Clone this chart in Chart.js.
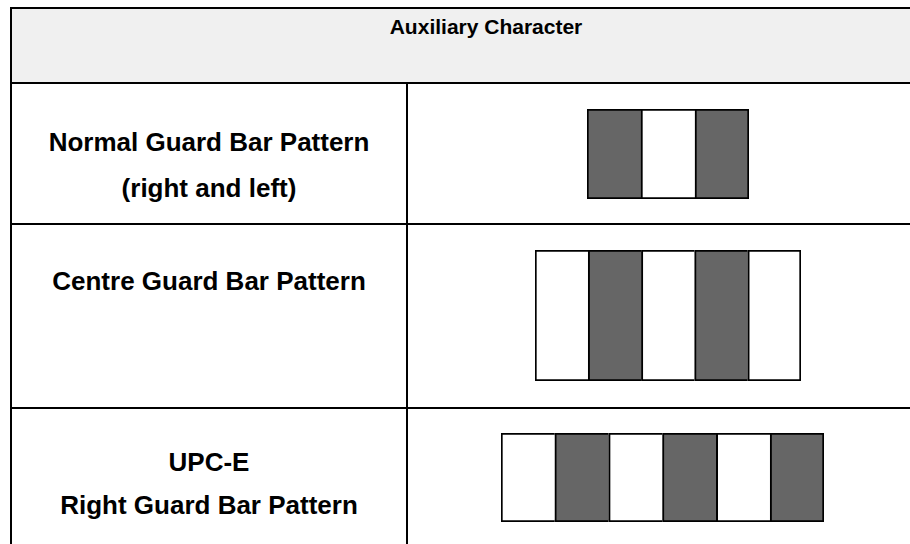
<!DOCTYPE html>
<html>
<head>
<meta charset="utf-8">
<script src="https://cdn.jsdelivr.net/npm/chart.js@4.4.0/dist/chart.umd.min.js"></script>
<style>
  body { margin: 0; width: 910px; height: 544px; overflow: hidden; background: #fff; font-family: "Liberation Sans", Arial, sans-serif; }
  .abs { position: absolute; }
  .line { position: absolute; background: #000; }
  .txt { position: absolute; font-weight: bold; color: #000; white-space: nowrap; text-align: center; line-height: 30px; height: 30px; }
  canvas { position: absolute; }
</style>
</head>
<body>
<div class="abs" style="left:12px;top:9px;width:910px;height:73px;background:#f0f0f0"></div>
<div class="line" style="left:10px;top:7px;width:910px;height:2px"></div>
<div class="line" style="left:10px;top:82px;width:910px;height:2px"></div>
<div class="line" style="left:10px;top:223px;width:910px;height:2px"></div>
<div class="line" style="left:10px;top:407px;width:910px;height:2px"></div>
<div class="line" style="left:10px;top:7px;width:2px;height:540px"></div>
<div class="line" style="left:406px;top:82px;width:2px;height:470px"></div>

<div class="txt" id="head" style="left:286px;top:12px;width:400px;font-size:21px"></div>
<div id="labels"></div>

<canvas id="c0" width="162" height="90" style="left:587px;top:109px"></canvas>
<canvas id="c1" width="266" height="131" style="left:535px;top:250px"></canvas>
<canvas id="c2" width="323" height="89" style="left:501px;top:433px"></canvas>

<script>
// 1 = dark bar module, 0 = space module
const headerText = 'Auxiliary Character';
const rowLabels = [
  ['Normal Guard Bar Pattern', '(right and left)'],
  ['Centre Guard Bar Pattern'],
  ['UPC-E', 'Right Guard Bar Pattern']
];
const normalGuard = [1, 0, 1];
const centreGuard = [0, 1, 0, 1, 0];
const upceRightGuard = [0, 1, 0, 1, 0, 1];

const patterns = [normalGuard, centreGuard, upceRightGuard];
const labelTops = [[127, 173], [266], [447, 490]];

document.getElementById('head').textContent = headerText;
const labelBox = document.getElementById('labels');
rowLabels.forEach((lines, r) => {
  lines.forEach((t, i) => {
    const d = document.createElement('div');
    d.className = 'txt';
    d.style.cssText = `left:12px;width:394px;top:${labelTops[r][i]}px;font-size:26px`;
    d.textContent = t;
    labelBox.appendChild(d);
  });
});

function drawPattern(id, bits) {
  const last = bits.length - 1;
  new Chart(document.getElementById(id), {
    type: 'bar',
    data: {
      labels: bits.map((b, i) => i + 1),
      datasets: [{
        data: bits.map(() => 1),
        backgroundColor: bits.map(b => b ? '#666666' : '#ffffff'),
        borderColor: '#000',
        borderWidth: ctx => ({ top: 2, bottom: 2, left: 2, right: ctx.dataIndex === last ? 2 : 0 }),
        borderSkipped: false,
        barPercentage: 1,
        categoryPercentage: 1
      }]
    },
    options: {
      responsive: false,
      animation: false,
      layout: { padding: 0 },
      plugins: { legend: { display: false }, tooltip: { enabled: false } },
      scales: {
        x: { display: false, offset: true },
        y: { display: false, min: 0, max: 1 }
      }
    }
  });
}

patterns.forEach((p, i) => drawPattern('c' + i, p));
</script>
</body>
</html>
